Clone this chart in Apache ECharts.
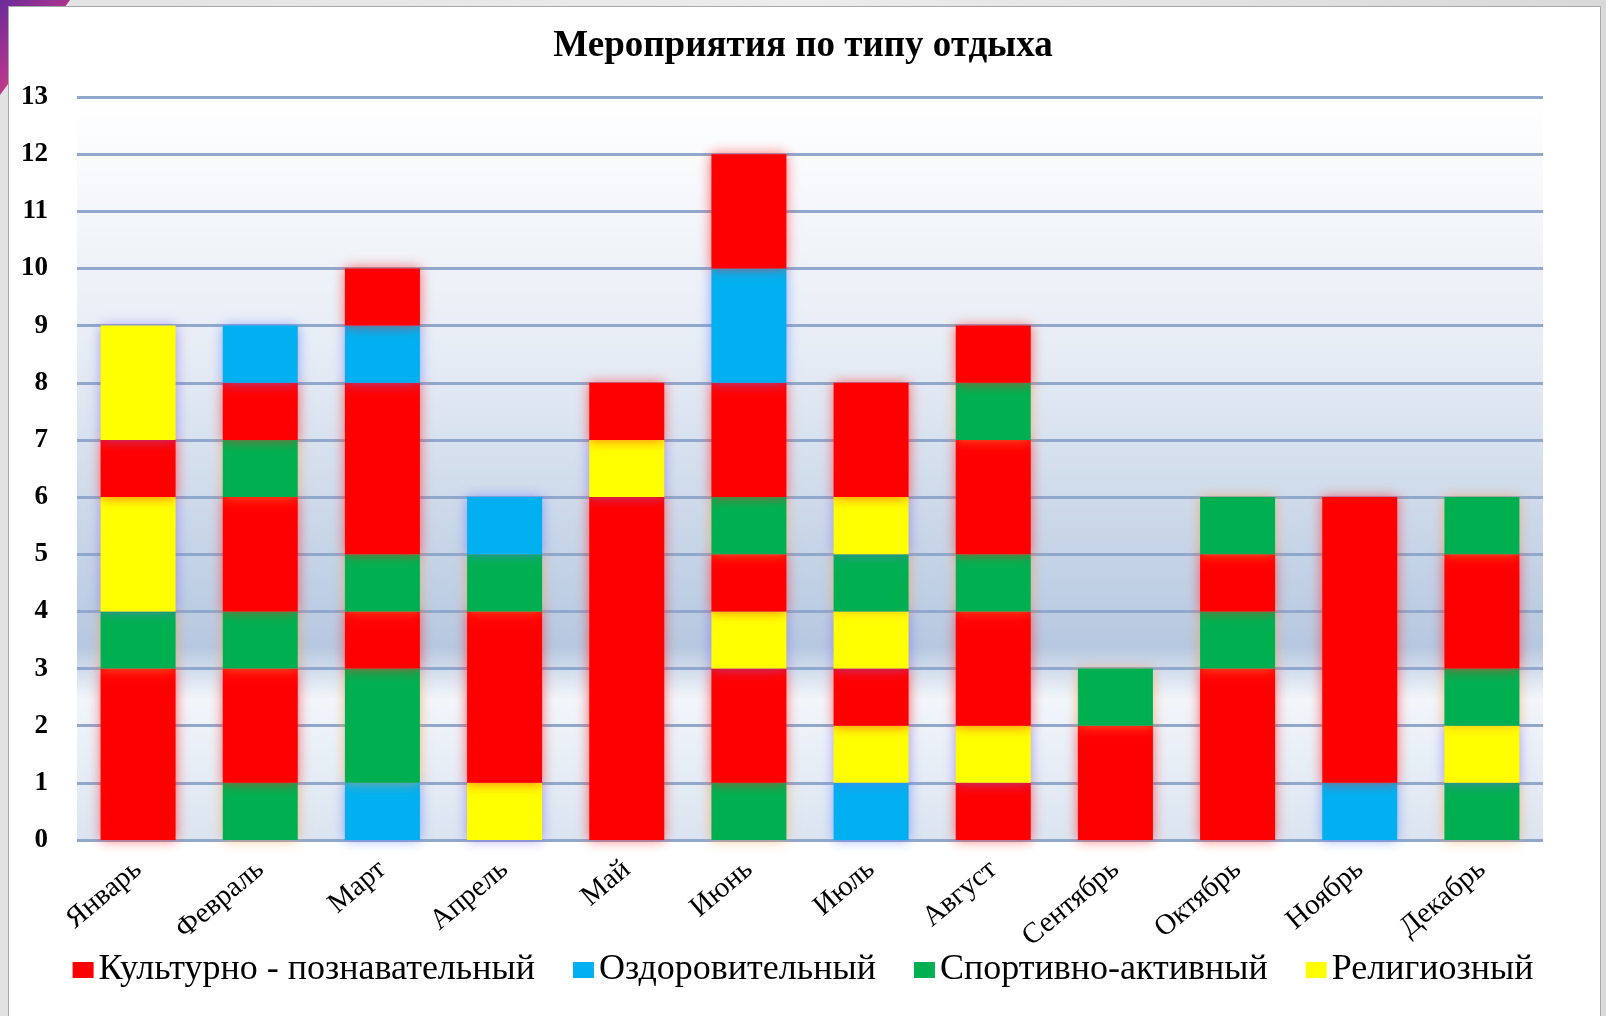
<!DOCTYPE html>
<html>
<head>
<meta charset="utf-8">
<title>Мероприятия по типу отдыха</title>
<script src="https://cdn.jsdelivr.net/npm/echarts@6/dist/echarts.min.js"></script>
<style>
  html, body {
    margin: 0;
    padding: 0;
    width: 1606px;
    height: 1016px;
    overflow: hidden;
    background: linear-gradient(90deg, #e2e2e2, #ececec 50%, #d9d9d9);
  }
  /* фиолетовый уголок слева сверху */
  .corner {
    position: absolute;
    left: 0;
    top: 0;
    width: 70px;
    height: 95px;
    background: linear-gradient(135deg, #6a2a9a, #c23a8a 60%, #e070b0);
    clip-path: polygon(0 0, 100% 0, 0 100%);
  }
  /* белая рамка слайда */
  .frame {
    position: absolute;
    left: 8px;
    top: 6px;
    width: 1593px;
    height: 1020px;
    background: #fff;
    border: 1px solid #a8a8a8;
    box-sizing: border-box;
  }
  #main {
    position: absolute;
    left: 0;
    top: 0;
    width: 1606px;
    height: 1016px;
  }
</style>
</head>
<body>
<div class="corner"></div>
<div class="frame"></div>
<div id="main"></div>
<script>
// месяцы
const months = ['Январь', 'Февраль', 'Март', 'Апрель', 'Май', 'Июнь',
  'Июль', 'Август', 'Сентябрь', 'Октябрь', 'Ноябрь', 'Декабрь'];

// типы отдыха (легенда)
const types = ['Культурно - познавательный', 'Оздоровительный', 'Спортивно-активный', 'Религиозный'];

// отрезки столбцов снизу вверх: индекс типа (0 - культ., 1 - оздор., 2 - спорт., 3 - религ.)
const segTypes = [
  [0, 2, 3, 0, 3],
  [2, 0, 2, 0, 2, 0, 1],
  [1, 2, 0, 2, 0, 1, 0],
  [3, 0, 2, 1],
  [0, 3, 0],
  [2, 0, 3, 0, 2, 0, 1, 0],
  [1, 3, 0, 3, 2, 3, 0],
  [0, 3, 0, 2, 0, 2, 0],
  [0, 2],
  [0, 2, 0, 2],
  [1, 0],
  [2, 3, 2, 0, 2]
];

// количество мероприятий в каждом отрезке
const segValues = [
  [3, 1, 2, 1, 2],
  [1, 2, 1, 2, 1, 1, 1],
  [1, 2, 1, 1, 3, 1, 1],
  [1, 3, 1, 1],
  [6, 1, 1],
  [1, 2, 1, 1, 1, 2, 2, 2],
  [1, 1, 1, 1, 1, 1, 2],
  [1, 1, 2, 1, 2, 1, 1],
  [2, 1],
  [3, 1, 1, 1],
  [1, 5],
  [1, 1, 1, 2, 1]
];

const yTicks = [0, 13, 1]; // min, max, шаг

const colors = ['#ff0000', '#00b0f0', '#00b050', '#ffff00'];
const glow = ['rgba(255,40,40,0.7)', 'rgba(90,120,255,0.65)', 'rgba(240,150,70,0.65)', 'rgba(130,100,230,0.65)'];

const serif = '"Liberation Serif", "DejaVu Serif", serif';

var myChart = echarts.init(document.getElementById('main'));

// слои столбцов: k-й отрезок каждого месяца
var layers = Math.max.apply(null, segValues.map(s => s.length));
var series = [];

// пустые серии только для легенды
types.forEach((t, i) => {
  series.push({
    name: t,
    type: 'bar',
    stack: 'total',
    barWidth: 75,
    itemStyle: { color: colors[i] },
    data: []
  });
});

for (let k = 0; k < layers; k++) {
  series.push({
    name: 'layer' + k,
    type: 'bar',
    stack: 'total',
    barWidth: 75,
    data: months.map((m, i) => {
      if (k >= segValues[i].length) return null;
      let t = segTypes[i][k];
      return {
        value: segValues[i][k],
        itemStyle: {
          color: colors[t],
          shadowBlur: 12,
          shadowColor: glow[t]
        }
      };
    })
  });
}

myChart.setOption({
  backgroundColor: 'transparent',
  animation: false,
  title: {
    text: 'Мероприятия по типу отдыха',
    left: 'center',
    top: 23,
    textStyle: {
      fontFamily: serif,
      fontWeight: 'bold',
      fontSize: 37,
      color: '#000'
    }
  },
  legend: {
    data: types,
    top: 947,
    left: 'center',
    icon: 'rect',
    itemWidth: 21,
    itemHeight: 16,
    itemGap: 38,
    textStyle: {
      fontFamily: serif,
      fontSize: 36,
      color: '#000'
    }
  },
  grid: {
    left: 77,
    right: 63,
    top: 97,
    bottom: 176,
    show: true,
    borderWidth: 0,
    backgroundColor: new echarts.graphic.LinearGradient(0, 0, 0, 1, [
      { offset: 0, color: '#ffffff' },
      { offset: 0.35, color: '#e6ecf5' },
      { offset: 0.74, color: '#b6c8e0' },
      { offset: 0.81, color: '#f2f6fb' },
      { offset: 1, color: '#dbe4f0' }
    ])
  },
  xAxis: {
    type: 'category',
    data: months,
    axisLine: { show: false },
    axisTick: { show: false },
    axisLabel: {
      rotate: 40,
      margin: 26,
      fontFamily: serif,
      fontSize: 29,
      color: '#000'
    }
  },
  yAxis: {
    type: 'value',
    min: yTicks[0],
    max: yTicks[1],
    interval: yTicks[2],
    axisLine: { show: false },
    axisTick: { show: false },
    axisLabel: {
      margin: 29,
      fontFamily: serif,
      fontWeight: 'bold',
      fontSize: 27,
      color: '#000'
    },
    splitLine: {
      lineStyle: { color: '#90a8cc', width: 3 }
    }
  },
  series: series
});
</script>
</body>
</html>
